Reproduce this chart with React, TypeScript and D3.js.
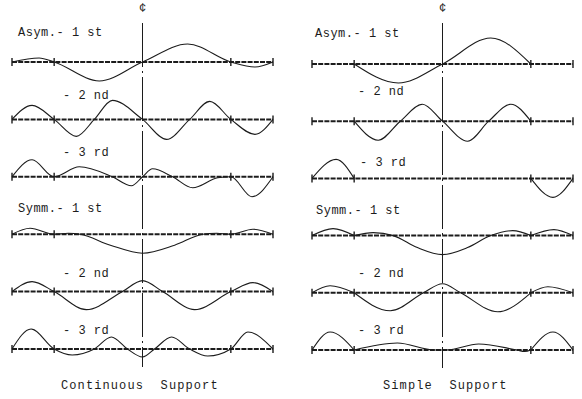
import { useEffect, useRef } from "react";
import * as d3 from "d3";

type Pt = [number, number];

// stations along the bridge (span ends and piers), centre at 0
const supports = [-130, -88, 88, 130];
const stationExtent: [number, number] = [-130, 130];

const modeIds = ["a1", "a2", "a3", "s1", "s2", "s3"];
const modeLabels = ["Asym.- 1 st", "- 2 nd", "- 3 rd", "Symm.- 1 st", "- 2 nd", "- 3 rd"];

// Continuous support: one curve over the three spans
const contAsym1: Pt[] = [[-130, 0], [-103, 4], [-88, 0], [-43, -19], [0, 0], [45, 18], [88, 0], [112, -5], [130, 0]];
const contAsym2: Pt[] = [[-130, 0], [-110, 14], [-88, 0], [-66, -17], [-48, 0], [-30, 19], [0, 0], [24, -20], [47, 0], [67, 18], [88, 0], [112, -15], [130, 0]];
const contAsym3: Pt[] = [[-130, 0], [-110, 17], [-88, 0], [-63, 10], [-30, 0], [-11, -9], [0, 0], [10, 8], [30, 0], [50, -11], [75, -1], [88, 0], [109, -20], [130, 0]];
const contSymm1: Pt[] = [[-130, 0], [-112, 6], [-88, 0], [-74, 1], [-62, 0], [-32, -11], [0, -19], [32, -11], [60, 0], [74, 1], [88, 0], [110, 5], [130, 0]];
const contSymm2: Pt[] = [[-130, 0], [-110, 10], [-88, 0], [-56, -18], [-20, 0], [0, 11], [20, 0], [52, -18], [88, 0], [110, 9], [130, 0]];
const contSymm3: Pt[] = [[-130, 0], [-111, 20], [-88, 0], [-70, -6], [-48, 0], [-31, 12], [-15, 0], [0, -8], [12, 0], [29, 12], [47, 0], [65, -7], [88, 0], [105, 17], [130, 0]];

// Simple support: each loaded span drawn on its own
const simpAsym1: Pt[][] = [[[-88, 0], [-44, -19], [0, 0], [48, 26], [88, 0]]];
const simpAsym2: Pt[][] = [[[-88, 0], [-64, -19], [-42, 0], [-20, 17], [0, 0], [25, -20], [46, 0], [68, 17], [88, 0]]];
const simpAsym3: Pt[][] = [[[-130, 0], [-106, 19], [-88, 0]], [[88, 0], [110, -19], [130, 0]]];
const simpSymm1: Pt[][] = [
  [[-130, 0], [-109, 7], [-88, 0]],
  [[-88, 0], [-69, 3], [-49, 0], [-25, -12], [0, -19], [25, -12], [48, 0], [70, 5], [88, 0]],
  [[88, 0], [111, 6], [130, 0]],
];
const simpSymm2: Pt[][] = [
  [[-130, 0], [-112, 7], [-88, 0]],
  [[-88, 0], [-52, -18], [-19, 0], [0, 9], [18, 0], [55, -19], [88, 0]],
  [[88, 0], [105, 6], [130, 0]],
];
const simpSymm3: Pt[][] = [
  [[-130, 0], [-112, 18], [-88, 0]],
  [[-88, 0], [-45, 7], [-8, 0], [4, 0], [36, 6], [74, 0], [82, -1.5], [88, 0]],
  [[88, 0], [110, 18], [130, 0]],
];

const continuousShapes: Pt[][][] = [[contAsym1], [contAsym2], [contAsym3], [contSymm1], [contSymm2], [contSymm3]];
const simpleShapes: Pt[][][] = [simpAsym1, simpAsym2, simpAsym3, simpSymm1, simpSymm2, simpSymm3];

const panels = [
  {
    title: "Continuous  Support",
    shapes: continuousShapes,
    xRange: [12, 273],
    rowRange: [62, 349],
    labelDx: [6, 51, 51, 6, 51, 51],
    labelDy: [-26, -20, -21, -22, -15, -15],
    titleX: 61,
    titleY: 389,
    lineBottom: 367,
  },
  {
    title: "Simple  Support",
    shapes: simpleShapes,
    xRange: [312, 573],
    rowRange: [64, 350],
    labelDx: [3, 46, 48, 4, 46, 46],
    labelDy: [-27, -26, -12, -22, -16, -16],
    titleX: 383,
    titleY: 389,
    lineBottom: 368,
  },
];

const W = 582;
const H = 399;
const INK = "#1c1c1c";
const FONT = "'Liberation Mono', 'DejaVu Sans Mono', monospace";

export default function App() {
  const svgRef = useRef<SVGSVGElement>(null);

  useEffect(() => {
    if (!svgRef.current) return;
    const svg = d3.select(svgRef.current);
    svg.selectAll("*").remove();

    svg.append("rect").attr("width", W).attr("height", H).attr("fill", "#fff");

    const y = d3.scaleLinear().domain([-30, 30]).range([30, -30]);

    panels.forEach((p) => {
      const x = d3.scaleLinear().domain(stationExtent).range(p.xRange as [number, number]);
      const row = d3.scalePoint<string>().domain(modeIds).range(p.rowRange as [number, number]);
      const g = svg.append("g");

      // centre line and its symbol
      g.append("line")
        .attr("x1", x(0))
        .attr("x2", x(0))
        .attr("y1", 23)
        .attr("y2", p.lineBottom)
        .attr("stroke", INK)
        .attr("stroke-width", 1)
        .attr("stroke-dasharray", "44,4,2,4");

      g.append("text")
        .attr("x", x(0))
        .attr("y", 12)
        .attr("text-anchor", "middle")
        .attr("font-family", FONT)
        .attr("font-size", 12)
        .attr("fill", INK)
        .text("¢");

      modeIds.forEach((id, i) => {
        const base = row(id) as number;

        // dashed datum line with support ticks
        g.append("line")
          .attr("x1", x(stationExtent[0]))
          .attr("x2", x(stationExtent[1]))
          .attr("y1", base)
          .attr("y2", base)
          .attr("stroke", INK)
          .attr("stroke-width", 2)
          .attr("stroke-dasharray", "5,1.2");

        g.selectAll(null)
          .data(supports)
          .enter()
          .append("line")
          .attr("x1", (d) => x(d))
          .attr("x2", (d) => x(d))
          .attr("y1", base - 4)
          .attr("y2", base + 4)
          .attr("stroke", INK)
          .attr("stroke-width", 1.4);

        const line = d3
          .line<Pt>()
          .x((d) => x(d[0]))
          .y((d) => base + y(d[1]))
          .curve(d3.curveMonotoneX);

        g.selectAll(null)
          .data(p.shapes[i])
          .enter()
          .append("path")
          .attr("d", (d) => line(d))
          .attr("fill", "none")
          .attr("stroke", INK)
          .attr("stroke-width", 1.1);

        g.append("text")
          .attr("x", p.xRange[0] + p.labelDx[i])
          .attr("y", base + p.labelDy[i])
          .attr("font-family", FONT)
          .attr("font-size", 12)
          .attr("letter-spacing", 0.5)
          .attr("fill", INK)
          .style("white-space", "pre")
          .text(modeLabels[i]);
      });

      g.append("text")
        .attr("x", p.titleX)
        .attr("y", p.titleY)
        .attr("font-family", FONT)
        .attr("font-size", 12)
        .attr("letter-spacing", 1.1)
        .attr("fill", INK)
        .style("white-space", "pre")
        .text(p.title);
    });
  }, []);

  return (
    <div style={{ position: "absolute", left: 0, top: 0, width: W, height: H }}>
      <svg ref={svgRef} width={W} height={H} style={{ display: "block" }}></svg>
    </div>
  );
}
